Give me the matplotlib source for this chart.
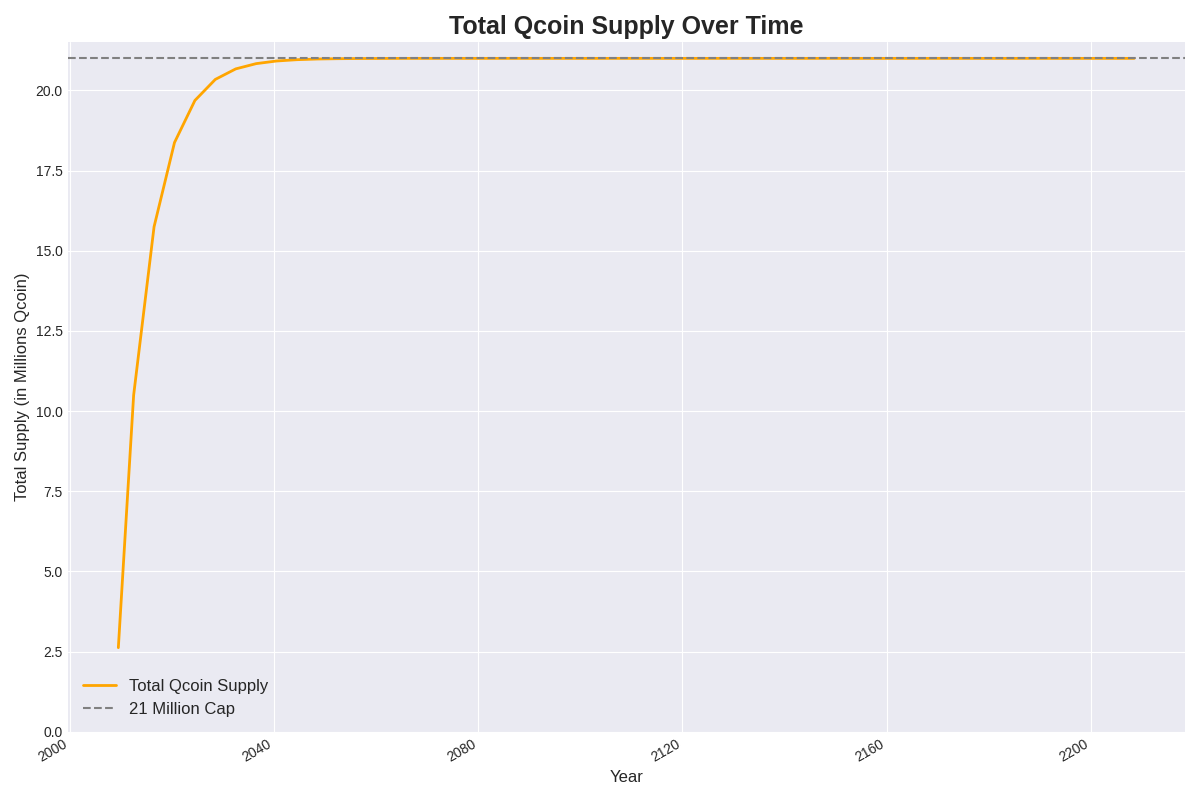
import matplotlib
matplotlib.use("Agg")
import matplotlib.pyplot as plt

years = [2009.5, 2012.5, 2016.5, 2020.5, 2024.5, 2028.5, 2032.5, 2036.5, 2040.5, 2044.5,
         2048.5, 2052.5, 2056.5, 2060.5, 2064.5, 2068.5, 2072.5, 2076.5, 2080.5, 2084.5,
         2088.5, 2092.5, 2096.5, 2100.5, 2104.5, 2108.5, 2112.5, 2116.5, 2120.5, 2124.5,
         2128.5, 2132.5, 2136.5, 2140.5, 2144.5, 2148.5, 2152.5, 2156.5, 2160.5, 2164.5,
         2168.5, 2172.5, 2176.5, 2180.5, 2184.5, 2188.5, 2192.5, 2196.5, 2200.5, 2204.5,
         2208.5]
supply = [2.625, 10.5, 15.75, 18.375, 19.6875, 20.344, 20.672, 20.836, 20.918, 20.959,
          20.980, 20.990, 20.995, 20.997, 20.999, 21.0, 21.0, 21.0, 21.0, 21.0,
          21.0, 21.0, 21.0, 21.0, 21.0, 21.0, 21.0, 21.0, 21.0, 21.0,
          21.0, 21.0, 21.0, 21.0, 21.0, 21.0, 21.0, 21.0, 21.0, 21.0,
          21.0, 21.0, 21.0, 21.0, 21.0, 21.0, 21.0, 21.0, 21.0, 21.0,
          21.0]
cap = 21.0

plt.style.use("seaborn-v0_8-darkgrid")
fig, ax = plt.subplots(figsize=(12, 8), dpi=100)
ax.plot(years, supply, color="orange", lw=2, label="Total Qcoin Supply")
ax.axhline(cap, color="gray", ls="--", lw=1.5, label="21 Million Cap")
ax.set_ylim(0, 21.5)
ax.set_xticks([2000, 2040, 2080, 2120, 2160, 2200])
ax.set_title("Total Qcoin Supply Over Time", fontsize=18, fontweight="bold")
ax.set_xlabel("Year", fontsize=12)
ax.set_ylabel("Total Supply (in Millions Qcoin)", fontsize=12)
ax.legend(loc="lower left", fontsize=12)
fig.autofmt_xdate()
fig.tight_layout()
fig.savefig("out.png")
